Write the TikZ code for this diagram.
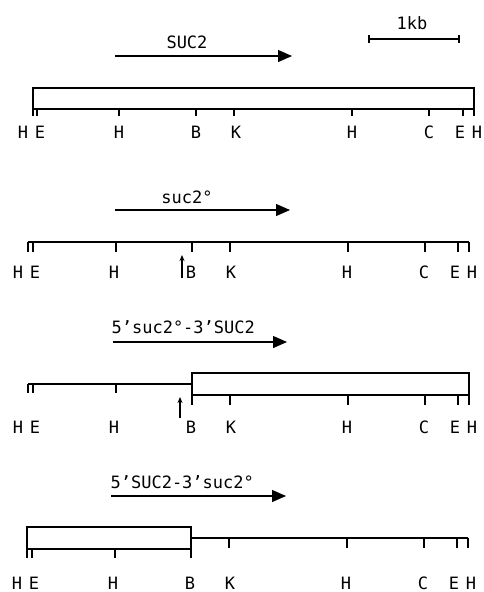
\documentclass[tikz,border=0pt]{standalone}
\usepackage{fontspec}
\setmainfont{DejaVu Sans Mono}
\usetikzlibrary{arrows.meta,positioning}

\begin{document}
\begin{tikzpicture}[x=1pt, y=-1pt, line width=1.2pt,
    lab/.style={font=\fontsize{17}{19}\selectfont, inner sep=0pt},
    gene/.style={-{Triangle[length=14pt, width=12pt]}},
    mut/.style={-{Stealth[length=6pt, width=5pt]}, line width=1.3pt}]
  \useasboundingbox (0,0) rectangle (483,592);

  % scale bar
  \coordinate (kb-l) at (369,39);
  \coordinate (kb-r) at (459,39);
  \draw (kb-l) -- (kb-r);
  \draw ([yshift=4pt]kb-l) -- ([yshift=-4pt]kb-l);
  \draw ([yshift=4pt]kb-r) -- ([yshift=-4pt]kb-r);
  \node[lab] (kb) at (412,23) {1kb};

  % transcripts
  \foreach \p/\xa/\xb/\y in {1/115/292/56, 2/115/290/210, 3/113/287/342, 4/111/286/496} {
    \coordinate (g\p-a) at (\xa,\y);
    \coordinate (g\p-b) at (\xb,\y);
    \draw[gene] (g\p-a) -- (g\p-b);
  }
  \node[lab] (t1) at (187,42) {SUC2};
  \node[lab] (t2) at (187,197) {suc2°};
  \node[lab, anchor=west] (t3) at (111,327) {5’suc2°-3’SUC2};
  \node[lab, anchor=west] (t4) at (110,482) {5’SUC2-3’suc2°};

  % map 1: wild type
  \coordinate (m1-l) at (33,88);
  \coordinate (m1-r) at (474,109);
  \draw (m1-l) rectangle (m1-r);
  \foreach \rx in {0,4,86,163,201,319,396,430,441}
    \draw (33+\rx,109) -- ++(0,7);

  % map 2: mutant
  \coordinate (m2-l) at (28,242);
  \coordinate (m2-r) at (469,242);
  \draw (m2-l) -- (m2-r);
  \foreach \rx in {0,5,88,164,202,320,397,430,441}
    \draw (28+\rx,242) -- ++(0,10);
  \coordinate (x2-a) at (182,278);
  \coordinate (x2-b) at (182,255);
  \draw[mut] (x2-a) -- (x2-b);

  % map 3: 5' mutant, 3' wild type
  \coordinate (m3-l) at (28,384);
  \coordinate (m3-j) at (192,384);
  \draw (m3-l) -- (m3-j);
  \draw (192,373) rectangle (469,395);
  \foreach \rx in {0,5,88}
    \draw (28+\rx,384) -- ++(0,9);
  \foreach \rx in {164,202,320,397,430,441}
    \draw (28+\rx,395) -- ++(0,10);
  \coordinate (x3-a) at (180,418);
  \coordinate (x3-b) at (180,397);
  \draw[mut] (x3-a) -- (x3-b);

  % map 4: 5' wild type, 3' mutant
  \draw (27,527) rectangle (191,549);
  \coordinate (m4-j) at (191,538);
  \coordinate (m4-r) at (468,538);
  \draw (m4-j) -- (m4-r);
  \foreach \rx in {0,5,88,164}
    \draw (27+\rx,549) -- ++(0,9);
  \foreach \rx in {202,320,397,430,441}
    \draw (27+\rx,538) -- ++(0,10);

  % site labels
  \foreach \ox/\ly/\p in {33/132/1, 28/272/2, 28/427/3, 27/583/4} {
    \foreach \lx/\l [count=\i] in {-10/H, 7/E, 86/H, 163/B, 203/K, 319/H, 396/C, 427/E, 444/H}
      \node[lab] (s\p-\i) at (\ox+\lx,\ly) {\l};
  }
\end{tikzpicture}
\end{document}
